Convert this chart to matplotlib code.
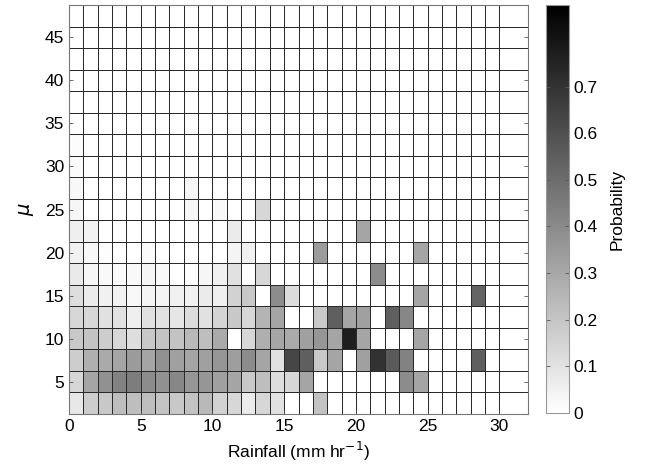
import numpy as np
import matplotlib
matplotlib.use("Agg")
import matplotlib.pyplot as plt

plt.rcParams['font.family'] = ['Liberation Sans', 'DejaVu Sans']

# rainfall bin edges (mm/hr); last bin is wider
rain_edges = list(range(31)) + [32]
# mu bin centres
mu_centres = [2.5 * k for k in range(1, 20)]

# probability per cell, rows = mu bins (bottom to top), cols = rainfall bins
prob_rows = [
    [0.079, 0.172, 0.189, 0.223, 0.223, 0.223, 0.206, 0.189, 0.206, 0.240, 0.154, 0.137, 0.069, 0.137, 0.103, 0, 0, 0.206, 0, 0, 0, 0, 0, 0, 0, 0, 0, 0, 0, 0, 0],
    [0.137, 0.309, 0.377, 0.429, 0.446, 0.395, 0.377, 0.412, 0.360, 0.360, 0.326, 0.309, 0.189, 0.223, 0.113, 0.137, 0.309, 0, 0, 0, 0, 0, 0, 0.395, 0.309, 0, 0, 0, 0, 0, 0],
    [0.172, 0.274, 0.292, 0.309, 0.343, 0.309, 0.377, 0.326, 0.309, 0.326, 0.360, 0.333, 0.395, 0.309, 0.103, 0.635, 0.549, 0.189, 0.309, 0, 0.326, 0.703, 0.566, 0.429, 0, 0, 0, 0, 0.549, 0, 0],
    [0.189, 0.206, 0.172, 0.137, 0.113, 0.189, 0.206, 0.206, 0.240, 0.223, 0.292, 0, 0.137, 0.274, 0.309, 0.292, 0.326, 0.360, 0.309, 0.772, 0.309, 0, 0, 0, 0.309, 0, 0, 0, 0, 0, 0],
    [0.137, 0.137, 0.103, 0.103, 0.058, 0.103, 0.103, 0.086, 0.120, 0.103, 0.148, 0.189, 0.137, 0.257, 0.309, 0, 0, 0.189, 0.549, 0.309, 0.326, 0, 0.549, 0.412, 0, 0, 0, 0, 0, 0, 0],
    [0.113, 0.069, 0.051, 0.051, 0.027, 0.038, 0.038, 0.051, 0.051, 0.069, 0.058, 0.154, 0.189, 0, 0.395, 0.120, 0, 0, 0, 0, 0, 0, 0, 0, 0.309, 0, 0, 0, 0.532, 0, 0],
    [0.075, 0.034, 0.021, 0.021, 0.021, 0.034, 0.021, 0, 0, 0.034, 0.051, 0.103, 0, 0.137, 0, 0, 0, 0, 0, 0, 0, 0.395, 0, 0, 0, 0, 0, 0, 0, 0, 0],
    [0.051, 0.024, 0.010, 0, 0, 0.017, 0, 0, 0, 0, 0, 0.040, 0.050, 0, 0, 0, 0, 0.343, 0, 0, 0, 0, 0, 0, 0.309, 0, 0, 0, 0, 0, 0],
    [0.058, 0.045, 0, 0, 0, 0, 0, 0, 0, 0, 0, 0.069, 0, 0, 0, 0, 0, 0, 0, 0, 0.309, 0, 0, 0, 0, 0, 0, 0, 0, 0, 0],
    [0.034, 0, 0, 0, 0, 0, 0, 0, 0.034, 0, 0.024, 0, 0, 0.137, 0, 0, 0, 0, 0, 0, 0, 0, 0, 0, 0, 0, 0, 0, 0, 0, 0],
    [0.024, 0, 0, 0, 0, 0, 0, 0, 0.034, 0, 0, 0, 0, 0, 0, 0, 0, 0, 0, 0, 0, 0, 0, 0, 0, 0, 0, 0, 0, 0, 0],
    [0.020, 0, 0, 0, 0, 0, 0, 0, 0, 0, 0, 0, 0, 0, 0, 0, 0, 0, 0, 0, 0, 0, 0, 0, 0, 0, 0, 0, 0, 0, 0],
    [0.012] + [0] * 30,
] + [[0] * 31 for _ in range(6)]

cbar_ticks = [0, 0.1, 0.2, 0.3, 0.4, 0.5, 0.6, 0.7]
vmax = 0.875

prob = np.array(prob_rows)
mu_edges = np.concatenate([np.array(mu_centres) - 1.25, [mu_centres[-1] + 1.25]])

fig = plt.figure(figsize=(6.49, 4.71), dpi=100)
ax = fig.add_axes([69 / 649, 57 / 471, 459 / 649, 409 / 471])
mesh = ax.pcolormesh(rain_edges, mu_edges, prob, cmap='gray_r', vmin=0, vmax=vmax,
                     edgecolors='#2a2a2a', linewidth=0.7)
ax.set_xlim(0, 32)
ax.set_ylim(mu_edges[0], mu_edges[-1])
ax.set_xticks(range(0, 31, 5))
ax.set_yticks(range(5, 46, 5))
ax.tick_params(direction='in', length=3, width=0.6, labelsize=12.5, right=True, top=False,
               color='#555555')
for s in ax.spines.values():
    s.set_color('#777777')
    s.set_linewidth(0.8)
ax.set_xlabel('Rainfall (mm hr$^{-1}$)', fontsize=12.5, labelpad=4)
ax.set_ylabel(r'$\mu$', fontsize=14, labelpad=6)

cax = fig.add_axes([546 / 649, 58 / 471, 23 / 649, 408 / 471])
cb = fig.colorbar(mesh, cax=cax, ticks=cbar_ticks)
cb.ax.set_yticklabels(['0', '0.1', '0.2', '0.3', '0.4', '0.5', '0.6', '0.7'])
cb.ax.tick_params(direction='in', length=3, width=0.6, labelsize=12.5, left=True, color='#555555')
cb.outline.set_edgecolor('#999999')
cb.outline.set_linewidth(0.8)
cb.set_label('Probability', fontsize=12.5, labelpad=8)

fig.savefig('out.png', dpi=100)
